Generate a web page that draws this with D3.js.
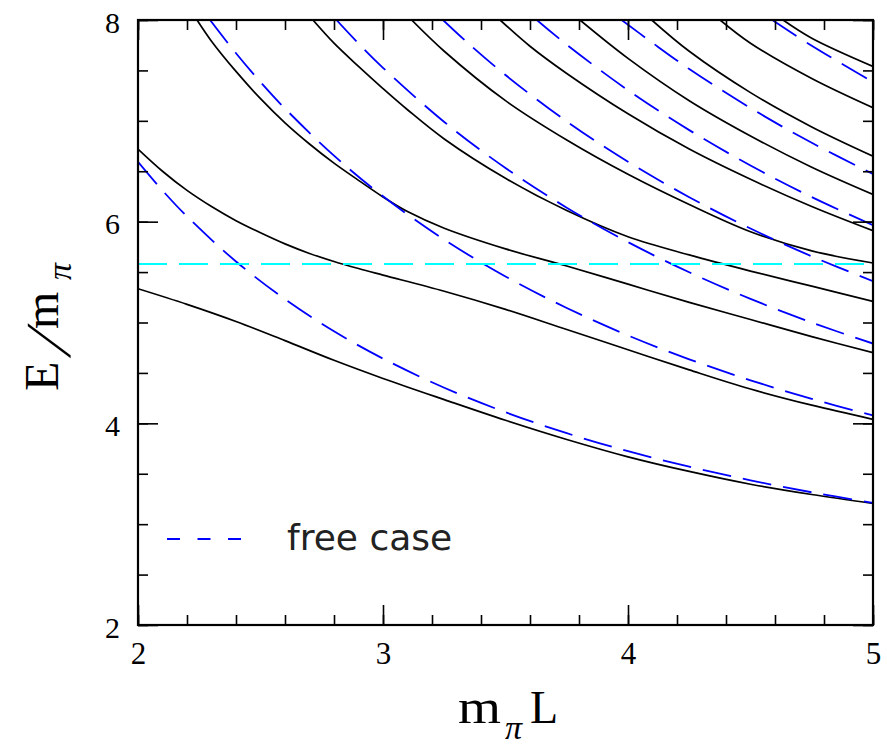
<!DOCTYPE html>
<html><head><meta charset="utf-8">
<script src="https://cdn.jsdelivr.net/npm/d3@7"></script>
<style>body{margin:0;background:#fff}</style>
</head><body><svg id="c" width="887" height="746"></svg>
<script>
// ---- data ----
const xTicksMajor = [2, 3, 4, 5];
const yTicksMajor = [2, 4, 6, 8];
const xTickLabels = ["2", "3", "4", "5"];
const yTickLabels = ["2", "4", "6", "8"];
const resonanceLevel = 5.58;
const legendLabels = ["free case"];

// free two-pion levels (dashed blue), [mπL, E/mπ]
const free1 = [[2.0,6.594],[2.1,6.309],[2.2,6.052],[2.4,5.605],[2.6,5.231],[2.8,4.913],[3.0,4.642],[3.25,4.353],[3.5,4.110],[3.75,3.902],[4.0,3.724],[4.25,3.570],[4.5,3.435],[4.75,3.316],[5.0,3.212]];
const free2 = [[2.294,8.0],[2.4,7.670],[2.5,7.385],[2.6,7.122],[2.8,6.655],[3.0,6.252],[3.25,5.822],[3.5,5.457],[3.75,5.144],[4.0,4.872],[4.25,4.635],[4.5,4.427],[4.75,4.242],[5.0,4.078]];
const free3 = [[2.81,8.0],[2.9,7.767],[3.0,7.526],[3.25,6.989],[3.5,6.532],[3.75,6.139],[4.0,5.797],[4.25,5.498],[4.5,5.234],[4.75,5.000],[5.0,4.791]];
const free4 = [[3.245,8.0],[3.35,7.764],[3.5,7.454],[3.75,6.994],[4.0,6.594],[4.25,6.243],[4.5,5.932],[4.75,5.656],[5.0,5.410]];
const free5 = [[3.628,8.0],[3.75,7.755],[4.0,7.304],[4.25,6.908],[4.5,6.557],[4.75,6.244],[5.0,5.965]];
const free6 = [[3.974,8.0],[4.1,7.773],[4.25,7.514],[4.5,7.127],[4.75,6.782],[5.0,6.473]];
const free8 = [[4.589,8.0],[4.75,7.745],[5.0,7.385]];

// interacting levels (solid black), [mπL, E/mπ]
const levelA = [[2.0,5.335],[2.2,5.18],[2.4,5.01],[2.6,4.82],[2.8,4.625],[3.0,4.445],[3.25,4.235],[3.5,4.03],[3.75,3.84],[4.0,3.668],[4.25,3.523],[4.5,3.396],[4.75,3.294],[5.0,3.205]];
const levelB = [[2.0,6.72],[2.1,6.50],[2.2,6.31],[2.3,6.15],[2.4,6.01],[2.5,5.89],[2.6,5.78],[2.7,5.685],[2.8,5.605],[2.9,5.535],[3.0,5.47],[3.25,5.31],[3.5,5.13],[3.75,4.93],[4.0,4.73],[4.25,4.53],[4.5,4.34],[4.75,4.18],[5.0,4.04]];
const levelC = [[2.241,8.0],[2.3,7.79],[2.4,7.49],[2.5,7.22],[2.6,6.98],[2.7,6.77],[2.8,6.58],[2.9,6.41],[3.0,6.245],[3.1,6.10],[3.25,5.935],[3.5,5.73],[3.75,5.56],[4.0,5.38],[4.25,5.20],[4.5,5.03],[4.75,4.86],[5.0,4.70]];
const levelD = [[2.714,8.0],[2.8,7.77],[2.9,7.54],[3.0,7.32],[3.1,7.11],[3.25,6.82],[3.5,6.43],[3.75,6.11],[4.0,5.85],[4.25,5.67],[4.5,5.51],[4.75,5.36],[5.0,5.21]];
const levelE = [[3.117,8.0],[3.25,7.69],[3.5,7.20],[3.75,6.81],[4.0,6.47],[4.25,6.17],[4.5,5.90],[4.75,5.71],[5.0,5.59]];
const levelF = [[3.478,8.0],[3.6,7.74],[3.75,7.47],[4.0,7.07],[4.25,6.72],[4.5,6.42],[4.75,6.15],[5.0,5.91]];
const levelG = [[3.804,8.0],[4.0,7.62],[4.25,7.20],[4.5,6.85],[4.75,6.54],[5.0,6.27]];
const levelH = [[4.097,8.0],[4.25,7.69],[4.5,7.28],[4.75,6.94],[5.0,6.65]];
const levelI = [[4.376,8.0],[4.5,7.77],[4.75,7.42],[5.0,7.13]];
const levelJ = [[4.633,8.0],[4.75,7.82],[5.0,7.54]];

const freeLevels = [free1, free2, free3, free4, free5, free6, free8];
const levels = [levelA, levelB, levelC, levelD, levelE, levelF, levelG, levelH, levelI, levelJ];

// ---- drawing ----
const svg = d3.select("#c");
const x = d3.scaleLinear().domain([2, 5]).range([138, 873]);
const y = d3.scaleLinear().domain([2, 8]).range([625, 20]);

svg.append("defs").append("clipPath").attr("id", "plot")
  .append("rect").attr("x", x(2)).attr("y", y(8))
  .attr("width", x(5) - x(2)).attr("height", y(2) - y(8));

const line = d3.line().x(d => x(d[0])).y(d => y(d[1])).curve(d3.curveCatmullRom.alpha(0.5));
const plot = svg.append("g").attr("clip-path", "url(#plot)");

plot.selectAll("path.level").data(levels).join("path")
  .attr("class", "level").attr("d", line)
  .attr("fill", "none").attr("stroke", "#000").attr("stroke-width", 1.7);

plot.selectAll("path.free").data(freeLevels).join("path")
  .attr("class", "free").attr("d", line)
  .attr("fill", "none").attr("stroke", "#0000ff").attr("stroke-width", 1.8)
  .attr("stroke-dasharray", "29,12");

plot.append("path")
  .attr("d", line([[2, resonanceLevel], [5, resonanceLevel]]))
  .attr("fill", "none").attr("stroke", "#00ffff").attr("stroke-width", 1.8)
  .attr("stroke-dasharray", "29,12");

// axes (ticks inward, mirrored)
function styleAxis(g) {
  g.select(".domain").remove();
  g.selectAll(".tick line").attr("stroke", "#000").attr("stroke-width", 1.6);
}
const xMinor = x.ticks(15), yMinor = y.ticks(12);
svg.append("g").attr("transform", `translate(0,${y(2)})`)
  .call(d3.axisBottom(x).tickValues(xMinor).tickSize(-10).tickFormat("")).call(styleAxis);
svg.append("g").attr("transform", `translate(0,${y(8)})`)
  .call(d3.axisTop(x).tickValues(xMinor).tickSize(-10).tickFormat("")).call(styleAxis);
svg.append("g").attr("transform", `translate(0,${y(8)})`)
  .call(d3.axisTop(x).tickValues(xTicksMajor).tickSize(-20).tickFormat("")).call(styleAxis);
svg.append("g").attr("transform", `translate(${x(2)},0)`)
  .call(d3.axisLeft(y).tickValues(yMinor).tickSize(-10).tickFormat("")).call(styleAxis);
svg.append("g").attr("transform", `translate(${x(5)},0)`)
  .call(d3.axisRight(y).tickValues(yMinor).tickSize(-10).tickFormat("")).call(styleAxis);
svg.append("g").attr("transform", `translate(${x(5)},0)`)
  .call(d3.axisRight(y).tickValues(yTicksMajor).tickSize(-20).tickFormat("")).call(styleAxis);

const serif = "'Liberation Serif', serif";
const xb = svg.append("g").attr("transform", `translate(0,${y(2)})`)
  .call(d3.axisBottom(x).tickValues(xTicksMajor).tickSize(-20).tickPadding(0)
    .tickFormat((d, i) => xTickLabels[i])).call(styleAxis);
xb.selectAll(".tick text").attr("y", 39).attr("dy", null)
  .style("font-family", serif).style("font-size", "31px").attr("fill", "#000");

const yl = svg.append("g").attr("transform", `translate(${x(2)},0)`)
  .call(d3.axisLeft(y).tickValues(yTicksMajor).tickSize(-20).tickPadding(0)
    .tickFormat((d, i) => yTickLabels[i])).call(styleAxis);
yl.selectAll(".tick text").attr("x", -18).attr("dy", null).attr("y", 12)
  .style("font-family", serif).style("font-size", "30px").attr("fill", "#000");

// frame
svg.append("rect").attr("x", x(2)).attr("y", y(8))
  .attr("width", x(5) - x(2)).attr("height", y(2) - y(8))
  .attr("fill", "none").attr("stroke", "#000").attr("stroke-width", 2.2);

// axis titles
const xt = svg.append("g").style("font-family", serif);
xt.append("text").attr("x", 458).attr("y", 723).style("font-size", "48px")
  .attr("textLength", 43).attr("lengthAdjust", "spacingAndGlyphs").text("m");
xt.append("text").attr("x", 505).attr("y", 739).style("font-size", "34px")
  .style("font-style", "italic").text("π");
xt.append("text").attr("x", 530).attr("y", 723).style("font-size", "46px").text("L");

const yt = svg.append("g").attr("transform", "translate(58,0) rotate(-90)").style("font-family", serif);
yt.append("text").attr("x", -391).attr("y", 0).style("font-size", "48px").text("E");
yt.append("text").attr("transform", "translate(-358,12) skewX(-22)")
  .style("font-size", "64px").text("/");
yt.append("text").attr("x", -329).attr("y", 0).style("font-size", "48px").text("m");
yt.append("text").attr("x", -280).attr("y", 13).style("font-size", "34px")
  .style("font-style", "italic").text("π");

// legend
const lg = svg.append("g").attr("transform", "translate(167,539)");
lg.append("line").attr("x1", 0).attr("x2", 74).attr("y1", 0).attr("y2", 0)
  .attr("stroke", "#0000ff").attr("stroke-width", 2).attr("stroke-dasharray", "13,17.5");
lg.append("text").attr("x", 120).attr("y", 11).style("font-family", "'DejaVu Sans', sans-serif")
  .style("font-size", "36px").attr("fill", "#222").text(legendLabels[0]);
</script></body></html>
